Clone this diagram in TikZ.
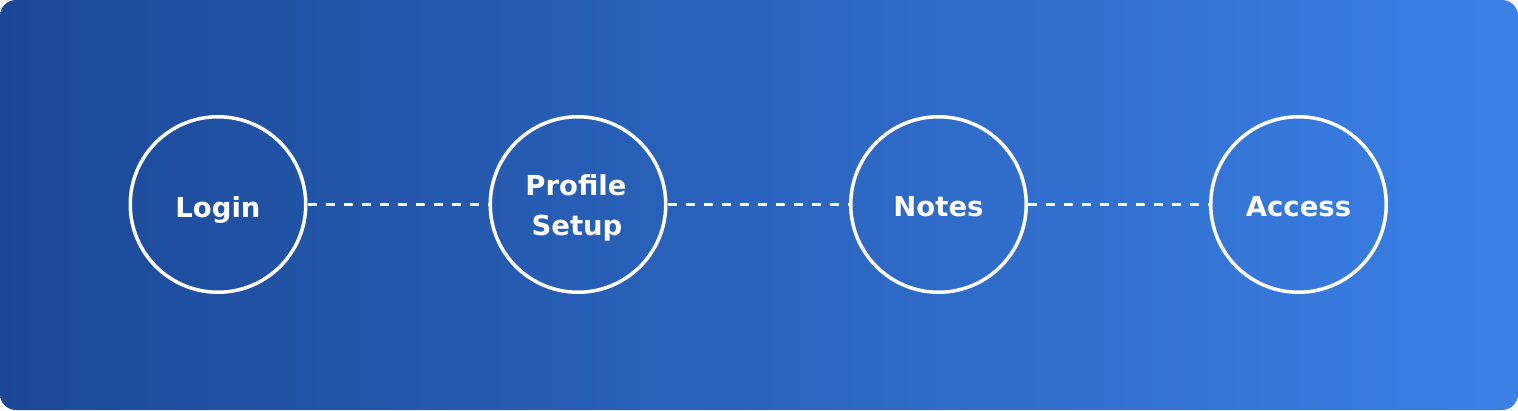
\documentclass[tikz,border=0pt]{standalone}
\usepackage{fontspec}
\setmainfont{DejaVu Sans}
\definecolor{bgleft}{HTML}{1B4896}
\definecolor{bgright}{HTML}{3B80E6}
\begin{document}
\begin{tikzpicture}[x=1pt,y=-1pt,
  stepcircle/.style={circle, draw=white, line width=3.5pt, minimum size=175.5pt, inner sep=0pt},
  steplabel/.style={anchor=base, inner sep=0pt, text=white, font=\fontsize{27.5}{40}\selectfont\bfseries},
  link/.style={draw=white, line width=3pt, dash pattern=on 9pt off 9pt}]
\useasboundingbox (0,0) rectangle (1518,410);
\shade[left color=bgleft, right color=bgright, rounded corners=16pt] (0,0) rectangle (1518,410);
\node[stepcircle] (login) at (218,204.5) {};
\node[stepcircle] (profile) at (578,204.5) {};
\node[stepcircle] (notes) at (938.5,204.5) {};
\node[stepcircle] (access) at (1298.5,204.5) {};
\node[steplabel] (logintext) at (218,217) {Login};
\node[steplabel] (profiletext) at (576,195) {Profile};
\node[steplabel] (setuptext) at (577,235) {Setup};
\node[steplabel] (notestext) at (938.5,216.5) {Notes};
\node[steplabel] (accesstext) at (1298.5,216.5) {Access};
\draw[link] (login) -- (profile);
\draw[link] (profile) -- (notes);
\draw[link] (notes) -- (access);
\end{tikzpicture}
\end{document}
